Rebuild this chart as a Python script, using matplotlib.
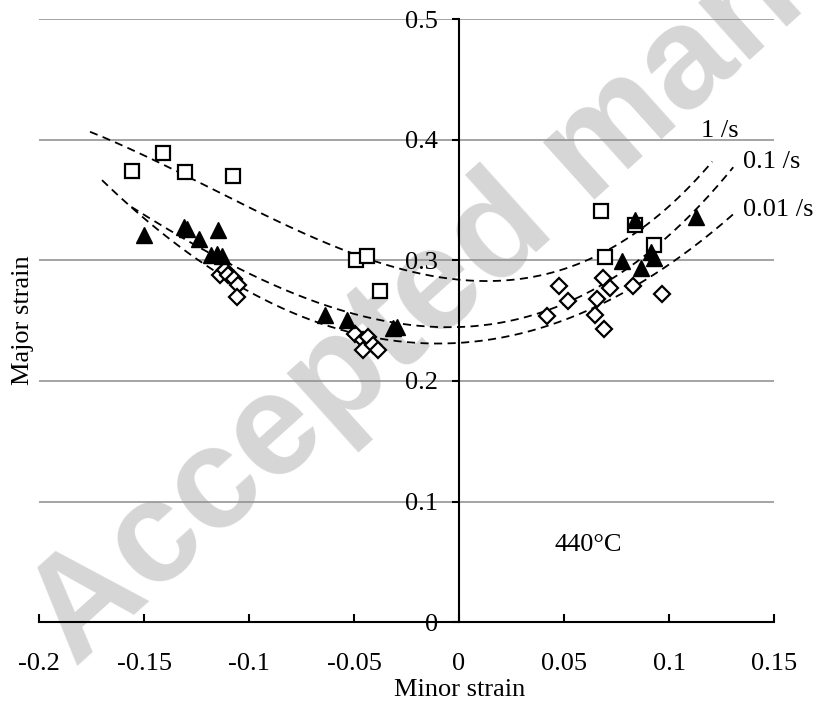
import numpy as np
import matplotlib
matplotlib.use("Agg")
import matplotlib.pyplot as plt

plt.rcParams['font.family'] = ['Liberation Serif', 'DejaVu Serif']

# data
# squares, 1 /s
sq_x = [-0.1556, -0.1408, -0.1305, -0.1078, -0.0490, -0.0437, -0.0376,
        0.0678, 0.0695, 0.0838, 0.0927]
sq_y = [0.3737, 0.3887, 0.3728, 0.3697, 0.2999, 0.3032, 0.2748,
        0.3407, 0.3027, 0.3289, 0.3126]

# filled triangles, 0.1 /s
tri_x = [-0.150, -0.1308, -0.1294, -0.1237, -0.1146, -0.1183, -0.1154, -0.1130,
         -0.0638, -0.0532, -0.0313, -0.0297,
         0.0838, 0.0777, 0.0868, 0.0915, 0.0928, 0.1129]
tri_y = [0.3206, 0.3275, 0.3262, 0.3176, 0.3248, 0.3040, 0.3049, 0.3032,
         0.2544, 0.2503, 0.2442, 0.2447,
         0.3336, 0.2995, 0.2935, 0.3070, 0.3020, 0.3358]

# open diamonds, 0.01 /s
dia_x = [-0.1138, -0.1114, -0.1099, -0.1070, -0.1054, -0.1059,
         -0.0495, -0.0456, -0.0432, -0.0456, -0.0411, -0.0384,
         0.0418, 0.0478, 0.0520, 0.0648, 0.0656, 0.0687, 0.0719, 0.0690,
         0.0827, 0.0968]
dia_y = [0.2880, 0.2916, 0.2875, 0.2848, 0.2792, 0.2696,
         0.2392, 0.2337, 0.2364, 0.2254, 0.2296, 0.2254,
         0.2535, 0.2786, 0.2662, 0.2550, 0.2681, 0.2852, 0.2773, 0.2431,
         0.2791, 0.2718]

# points
c1_x = [-0.1757, -0.098, -0.087, -0.0651, -0.044, -0.0297, 0.0195, 0.0576, 0.0862, 0.102, 0.1206]
c1_y = [0.4066, 0.3419, 0.333, 0.3165, 0.300, 0.2944, 0.2848, 0.2957, 0.3248, 0.3496, 0.3813]
c2_x = [-0.156, -0.1011, -0.0805, -0.0614, -0.0344, -0.0138, 0.0195, 0.0418, 0.064, 0.0799, 0.0957, 0.1116, 0.1306]
c2_y = [0.3446, 0.2902, 0.2737, 0.260, 0.2488, 0.2447, 0.251, 0.2613, 0.275, 0.2916, 0.311, 0.3386, 0.380]
c3_x = [-0.170, -0.11, -0.0916, -0.0678, -0.044, -0.0138, 0.0195, 0.0433, 0.0671, 0.0862, 0.1068, 0.1306]
c3_y = [0.3675, 0.282, 0.2654, 0.2502, 0.2364, 0.2323, 0.2379, 0.2488, 0.2613, 0.2778, 0.3027, 0.3413]

curve_labels = ["1 /s", "0.1 /s", "0.01 /s"]
yticks = [0, 0.1, 0.2, 0.3, 0.4, 0.5]
xticks = [-0.2, -0.15, -0.1, -0.05, 0, 0.05, 0.1, 0.15]

fig = plt.figure(figsize=(8.21, 7.09), dpi=100)
ax = fig.add_axes([39/821, (709-622.3)/709, (774-39)/821, (622.3-19)/709])
fs = 19

# faint watermark behind the data
ax.text(75/821, 1-668/709, "Accepted manuscript", transform=fig.transFigure,
        family='Liberation Sans', weight='bold', fontsize=104, color='#d6d6d6',
        rotation=42, rotation_mode='anchor', ha='left', va='baseline',
        zorder=0.5, clip_on=False)

for yv in yticks[1:]:
    ax.axhline(yv, color='#8c8c8c', lw=1.1, zorder=1)

# trend curves
for cx, cy in [(c1_x, c1_y), (c2_x, c2_y), (c3_x, c3_y)]:
    p = np.polyfit(cx, cy, 3)
    xx = np.linspace(cx[0], cx[-1], 200)
    ax.plot(xx, np.polyval(p, xx), color='black', lw=1.3, dashes=(4.5, 3), zorder=2)

ax.plot(sq_x, sq_y, ls='none', marker='s', ms=10.5, mfc='white', mec='black', mew=1.6, zorder=3)
ax.plot(dia_x, dia_y, ls='none', marker='D', ms=8, mfc='white', mec='black', mew=1.6, zorder=3)
ax.plot(tri_x, tri_y, ls='none', marker='^', ms=11, color='black', zorder=4)

ax.text(0.1243, 0.4075, curve_labels[0], fontsize=fs, ha='center', va='center')
ax.text(0.1352, 0.3813, curve_labels[1], fontsize=fs, ha='left', va='center')
ax.text(0.1352, 0.3413, curve_labels[2], fontsize=fs, ha='left', va='center')
ax.text(0.0614, 0.064, "440°C", fontsize=fs, ha='center', va='center')

ax.set_xlim(-0.2, 0.15)
ax.set_ylim(0, 0.5)
ax.set_xticks(xticks)
ax.set_xticklabels(["-0.2", "-0.15", "-0.1", "-0.05", "0", "0.05", "0.1", "0.15"])
ax.set_yticks(yticks)
ax.set_yticklabels(["0", "0.1", "0.2", "0.3", "0.4", "0.5"])

ax.spines['top'].set_visible(False)
ax.spines['right'].set_visible(False)
ax.spines['left'].set_position(('data', 0))
ax.spines['left'].set_linewidth(1.5)
ax.spines['bottom'].set_linewidth(1.5)
ax.tick_params(axis='x', direction='in', length=6, width=1.5, pad=22, labelsize=fs)
ax.tick_params(axis='y', direction='out', length=5, width=1.5, pad=10, labelsize=fs)
ax.patch.set_alpha(0)

fig.text(460/821, 1-690/709, "Minor strain", fontsize=fs, ha='center', va='center')
fig.text(22.7/821, 1-320/709, "Major strain", fontsize=fs, ha='center', va='center',
         rotation=90)

fig.savefig("out.png", dpi=100)
